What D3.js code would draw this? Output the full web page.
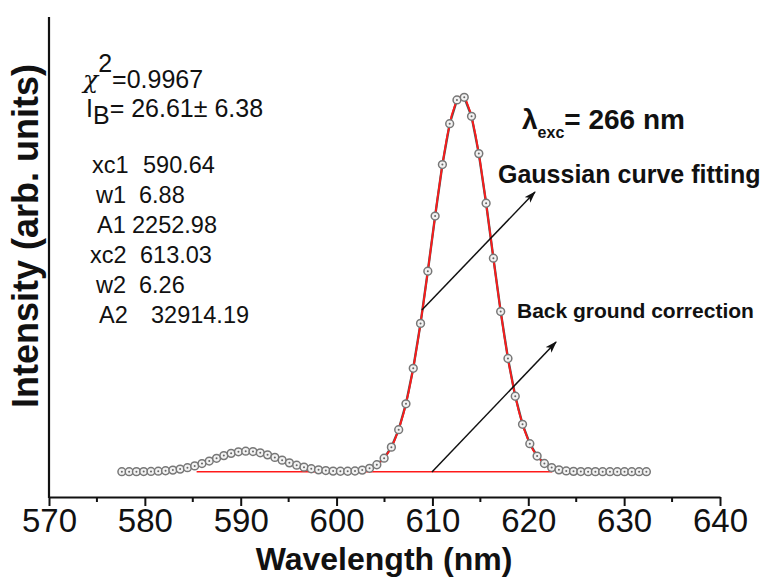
<!DOCTYPE html>
<html>
<head>
<meta charset="utf-8">
<style>
  body { margin: 0; background: #fff; }
  svg { display: block; }
  text { font-family: "Liberation Sans", Arial, sans-serif; fill: #111; }
</style>
</head>
<body>
<div id="chart"></div>
<script src="https://cdn.jsdelivr.net/npm/d3@7/dist/d3.min.js"></script>
<script>
// measured spectrum (wavelength in nm, intensity in arb. units)
const wavelength = [
  577.60, 578.36, 579.12, 579.88, 580.64, 581.40, 582.16, 582.92, 583.68, 584.44,
  585.20, 585.96, 586.72, 587.48, 588.24, 589.00, 589.76, 590.52, 591.28, 592.04,
  592.80, 593.56, 594.32, 595.08, 595.84, 596.60, 597.36, 598.12, 598.88, 599.64,
  600.40, 601.16, 601.92, 602.68, 603.44, 604.20, 604.96, 605.72, 606.48, 607.24,
  608.00, 608.76, 609.52, 610.28, 611.04, 611.80, 612.56, 613.32, 614.08, 614.84,
  615.60, 616.36, 617.12, 617.88, 618.64, 619.40, 620.16, 620.92, 621.68, 622.44,
  623.20, 623.96, 624.72, 625.48, 626.24, 627.00, 627.76, 628.52, 629.28, 630.04,
  630.80, 631.56, 632.32
];
const intensity = [
  27, 27, 28, 29, 30, 33, 38, 45, 56, 72,
  92, 118, 146, 177, 207, 232, 249, 256, 252, 238,
  215, 187, 156, 126, 100, 78, 60, 48, 40, 34,
  32, 32, 35, 45, 65, 105, 178, 301, 496, 785,
  1181, 1682, 2264, 2879, 3454, 3910, 4175, 4204, 3992, 3576,
  3022, 2409, 1814, 1290, 869, 556, 340, 202, 119, 73,
  48, 36, 31, 29, 28, 28, 27, 27, 27, 27,
  27, 27, 27
];

// Gaussian fit of the main band (red curve)
const fitWavelength = [
  603.0, 603.5, 604.0, 604.5, 605.0, 605.5, 606.0, 606.5, 607.0, 607.5,
  608.0, 608.5, 609.0, 609.5, 610.0, 610.5, 611.0, 611.5, 612.0, 612.5,
  613.0, 613.5, 614.0, 614.5, 615.0, 615.5, 616.0, 616.5, 617.0, 617.5,
  618.0, 618.5, 619.0, 619.5, 620.0, 620.5, 621.0, 621.5, 622.0, 622.5
];
const fitIntensity = [
  51, 67, 92, 129, 183, 259, 364, 503, 683, 908,
  1181, 1500, 1858, 2248, 2652, 3053, 3426, 3749, 4001, 4162,
  4222, 4175, 4025, 3784, 3468, 3100, 2702, 2296, 1904, 1540,
  1216, 938, 707, 522, 378, 270, 191, 134, 96, 70
];

// background line
const backgroundWavelength = [585.4, 622.5];
const backgroundLevel = 26.61;

const xTicks = [570, 580, 590, 600, 610, 620, 630, 640];
const xMinorTicks = [575, 585, 595, 605, 615, 625, 635];

const fitParams = [
  ["xc1", "590.64", 92, 143],
  ["w1", "6.88", 96, 139],
  ["A1", "2252.98", 97, 132],
  ["xc2", "613.03", 90, 140],
  ["w2", "6.26", 96, 139],
  ["A2", "32914.19", 99, 151]
];

const width = 768, height = 579;
const svg = d3.select("#chart").append("svg")
  .attr("width", width).attr("height", height);

const x = d3.scaleLinear().domain([570, 640]).range([49, 720]);
const y = d3.scaleLinear().domain([-255, 5100]).range([497, 17]);

svg.append("defs").append("marker")
  .attr("id", "arrow")
  .attr("viewBox", "0 0 12 8")
  .attr("refX", 11).attr("refY", 4)
  .attr("markerWidth", 12).attr("markerHeight", 8)
  .attr("markerUnits", "userSpaceOnUse")
  .attr("orient", "auto")
  .append("path")
  .attr("d", "M0,0 L12,4 L0,8 L3,4 Z")
  .attr("fill", "#111");

// axes
const xAxis = d3.axisBottom(x).tickValues(xTicks).tickSize(9).tickPadding(3).tickSizeOuter(0);
const gx = svg.append("g").attr("transform", "translate(0,497)").call(xAxis);
gx.select(".domain").attr("stroke", "#111").attr("stroke-width", 2.2);
gx.selectAll(".tick line").attr("stroke", "#111").attr("stroke-width", 2);
gx.selectAll(".tick text")
  .attr("font-family", "Liberation Sans, Arial, sans-serif")
  .attr("font-size", 33).attr("fill", "#111");
gx.selectAll(".minor").data(xMinorTicks).enter().append("line")
  .attr("x1", d => x(d)).attr("x2", d => x(d))
  .attr("y1", 0).attr("y2", 5)
  .attr("stroke", "#111").attr("stroke-width", 2);

svg.append("line")
  .attr("x1", x(570)).attr("x2", x(570))
  .attr("y1", 17).attr("y2", 498)
  .attr("stroke", "#111").attr("stroke-width", 2.2);

svg.append("text")
  .attr("x", 384).attr("y", 570)
  .attr("text-anchor", "middle")
  .attr("font-size", 32).attr("font-weight", "bold")
  .text("Wavelength (nm)");

svg.append("text")
  .attr("transform", "translate(38,236) rotate(-90)")
  .attr("text-anchor", "middle")
  .attr("font-size", 36).attr("font-weight", "bold")
  .text("Intensity (arb. units)");

// data line + fit
const pts = wavelength.map((w, i) => [w, intensity[i]]);
const fitPts = fitWavelength.map((w, i) => [w, fitIntensity[i]]);
const line = d3.line().x(d => x(d[0])).y(d => y(d[1]));

svg.append("path").datum(pts)
  .attr("d", line).attr("fill", "none")
  .attr("stroke", "#4d5656").attr("stroke-width", 2.4);

svg.append("path").datum(backgroundWavelength.map(w => [w, backgroundLevel]))
  .attr("d", line).attr("fill", "none")
  .attr("stroke", "#ff1a1a").attr("stroke-width", 1.6);

svg.append("path").datum(fitPts)
  .attr("d", line).attr("fill", "none")
  .attr("stroke", "#ff1a1a").attr("stroke-width", 1.8);

const dots = svg.append("g").selectAll("g").data(pts).enter().append("g")
  .attr("transform", d => `translate(${x(d[0])},${y(d[1])})`);
dots.append("circle").attr("r", 3.9)
  .attr("fill", "#f2f2f2").attr("stroke", "#777").attr("stroke-width", 1.5);
dots.append("circle").attr("r", 1).attr("fill", "#666");

// arrows
svg.append("line")
  .attr("x1", x(608.9)).attr("y1", y(1831))
  .attr("x2", x(620.7)).attr("y2", y(3147))
  .attr("stroke", "#111").attr("stroke-width", 1.5)
  .attr("marker-end", "url(#arrow)");
svg.append("line")
  .attr("x1", x(609.95)).attr("y1", y(24))
  .attr("x2", x(622.9)).attr("y2", y(1474))
  .attr("stroke", "#111").attr("stroke-width", 1.5)
  .attr("marker-end", "url(#arrow)");

// annotations
const lam = svg.append("text").attr("x", 522).attr("y", 129)
  .attr("font-size", 28).attr("font-weight", "bold");
lam.append("tspan").text("λ");
lam.append("tspan").attr("dy", 9).attr("font-size", 16).text("exc");
lam.append("tspan").attr("dy", -9).text("= 266 nm");

svg.append("text").attr("x", 498).attr("y", 183)
  .attr("font-size", 25).attr("font-weight", "bold")
  .text("Gaussian curve fitting");

svg.append("text").attr("x", 517).attr("y", 318)
  .attr("font-size", 21).attr("font-weight", "bold")
  .text("Back ground correction");

const chi = svg.append("text").attr("x", 83).attr("y", 88).attr("font-size", 25);
chi.append("tspan").attr("font-style", "italic").attr("font-family", "DejaVu Serif, serif").text("χ");
chi.append("tspan").attr("dy", -16).text("2");
chi.append("tspan").attr("dy", 16).text("=0.9967");

const ib = svg.append("text").attr("x", 86).attr("y", 117).attr("font-size", 25);
ib.append("tspan").text("I");
ib.append("tspan").attr("dy", 7).text("B");
ib.append("tspan").attr("dy", -7).text("= 26.61± 6.38");

fitParams.forEach((p, i) => {
  const ty = 173 + i * 30;
  svg.append("text").attr("x", p[2]).attr("y", ty).attr("font-size", 23.5).text(p[0]);
  svg.append("text").attr("x", p[3]).attr("y", ty).attr("font-size", 23.5).text(p[1]);
});
</script>
</body>
</html>
